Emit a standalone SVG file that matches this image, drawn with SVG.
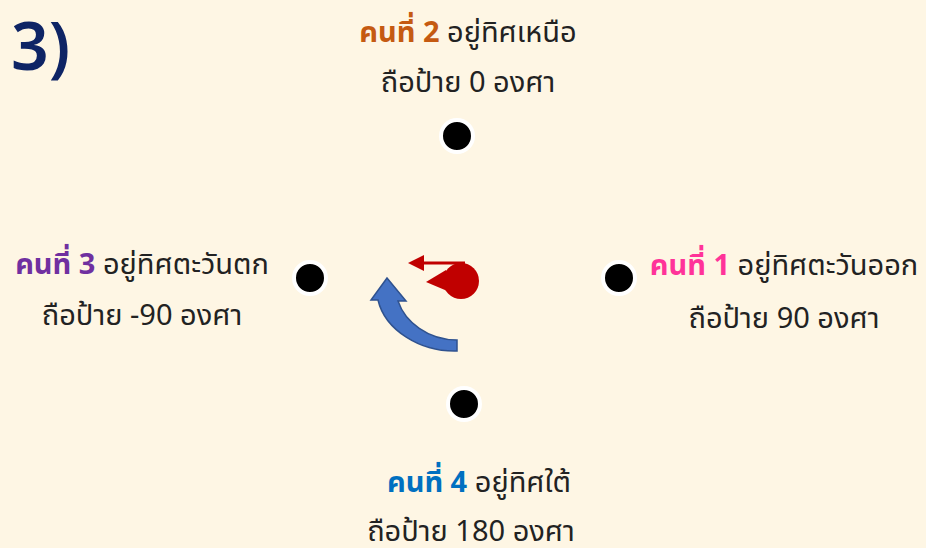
<svg xmlns="http://www.w3.org/2000/svg" width="926" height="548" viewBox="0 0 926 548">
<style>
.t{font-family:"Noto Sans","Noto Sans Thai","Loma",Tahoma,sans-serif;font-size:29px;fill:#222}
.b{font-weight:bold}
.dot{fill:#000;stroke:#fff;stroke-width:4}
</style>
<rect width="926" height="548" fill="#FEF6E4"/>
<text x="11" y="70" style="font-family:'Noto Sans','Liberation Sans',sans-serif;font-size:66px;font-weight:600;fill:#0E2465">3)</text>
<g id="n2">
<text class="t" x="468" y="42" text-anchor="middle"><tspan class="b" fill="#C55A11">คนที่ 2</tspan> อยู่ทิศเหนือ</text>
<text class="t" x="468" y="92" text-anchor="middle">ถือป้าย 0 องศา</text>
<circle class="dot" cx="457" cy="136" r="16"/>
</g>
<g id="n3">
<text class="t" x="142" y="274" text-anchor="middle"><tspan class="b" fill="#7030A0">คนที่ 3</tspan> อยู่ทิศตะวันตก</text>
<text class="t" x="142" y="325" text-anchor="middle">ถือป้าย -90 องศา</text>
<circle class="dot" cx="310" cy="278" r="16"/>
</g>
<g id="n1">
<text class="t" x="784" y="275" text-anchor="middle"><tspan class="b" fill="#FF3399">คนที่ 1</tspan> อยู่ทิศตะวันออก</text>
<text class="t" x="784" y="328" text-anchor="middle">ถือป้าย 90 องศา</text>
<circle class="dot" cx="619" cy="278" r="16"/>
</g>
<g id="n4">
<text class="t" x="479" y="492" text-anchor="middle"><tspan class="b" fill="#0070C0">คนที่ 4</tspan> อยู่ทิศใต้</text>
<text class="t" x="471" y="541" text-anchor="middle">ถือป้าย 180 องศา</text>
<circle class="dot" cx="464" cy="404" r="16"/>
</g>
<g id="center">
<circle cx="461" cy="281" r="18" fill="#C00000"/>
<path d="M426 282 L446 270 L452 293 Z" fill="#C00000"/>
</g>
<g id="connectors">
<line x1="465" y1="263" x2="420" y2="263" stroke="#C00000" stroke-width="3"/>
<path d="M408 263 L424 255 L424 271 Z" fill="#C00000"/>
<path d="M457 351 C420 352 385 330 378 300 L371 300 L387 278 L406 301 L398 301 C405 322 428 340 457 340 Z" fill="#4472C4" stroke="#2F528F" stroke-width="1.5"/>
</g>
</svg>
